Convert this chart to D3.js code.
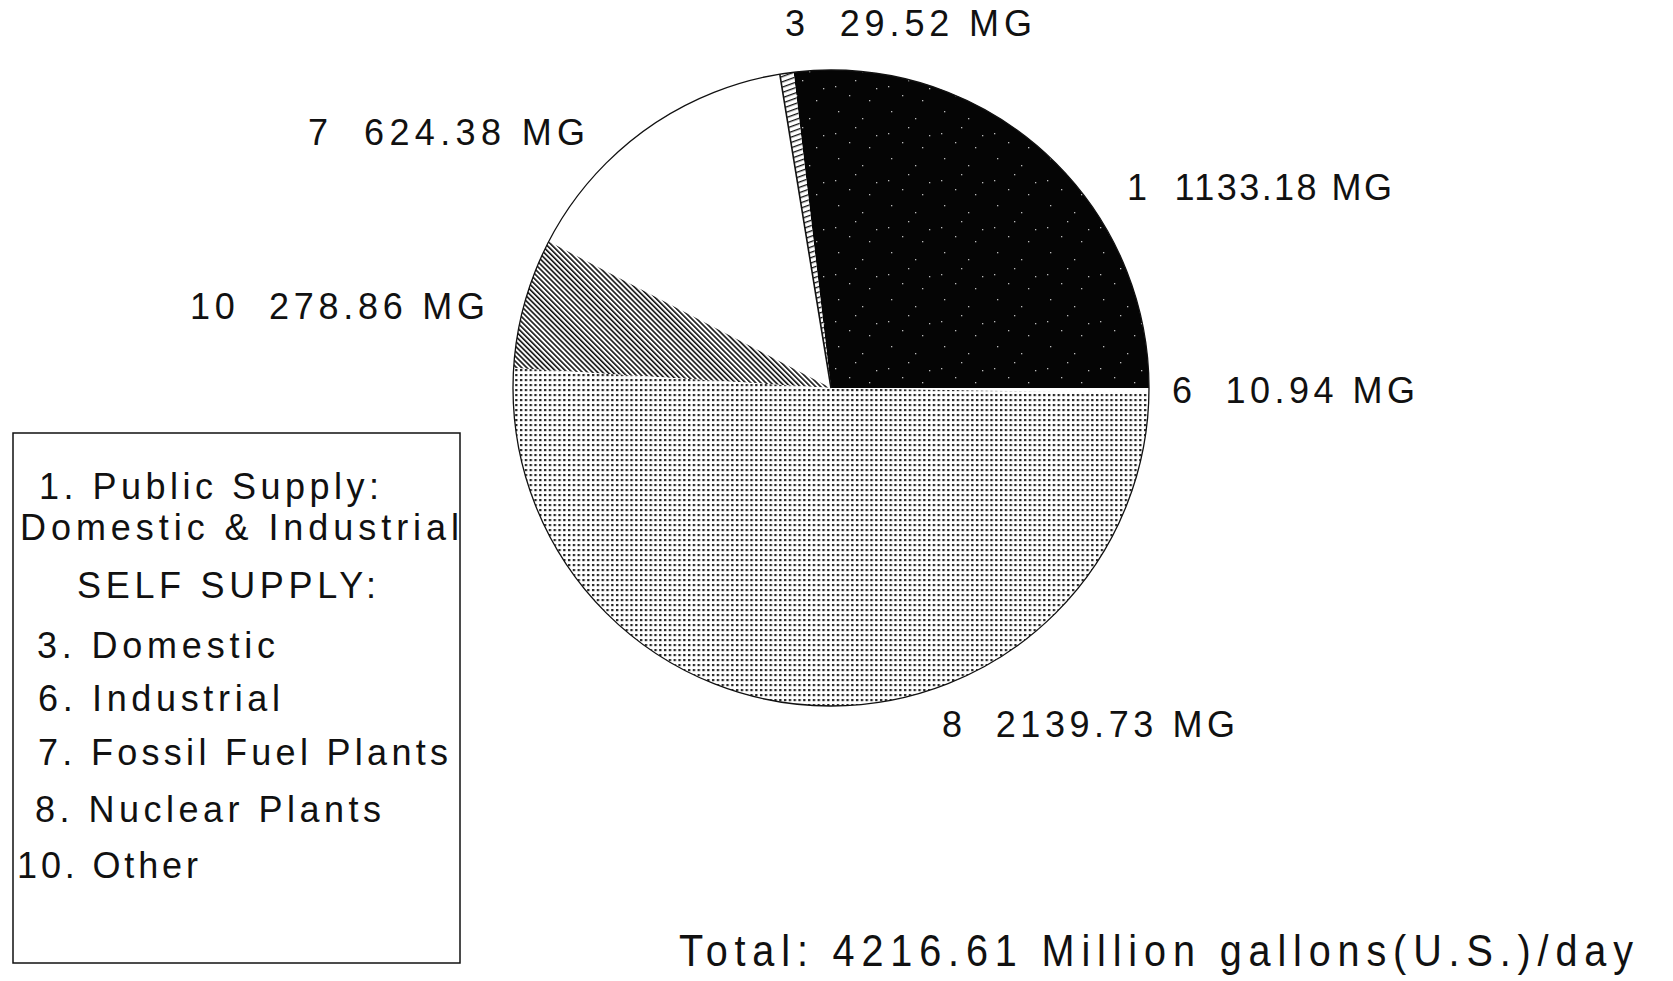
<!DOCTYPE html>
<html>
<head>
<meta charset="utf-8">
<script src="https://cdn.jsdelivr.net/npm/d3@7/dist/d3.min.js"></script>
<style>
  html, body { margin: 0; padding: 0; background: #fff; }
  svg { display: block; }
  text { font-family: "Liberation Sans", Arial, Helvetica, sans-serif; fill: #111; white-space: pre; }
</style>
</head>
<body>
<svg id="chart" width="1673" height="981"></svg>
<script>
// ---- data ----
const sliceIds    = ["1", "3", "7", "10", "8", "6"];
const sliceValues = [1133.18, 29.52, 624.38, 278.86, 2139.73, 10.94];
const sliceValueLabels = ["1133.18", "29.52", "624.38", "278.86", "2139.73", "10.94"];
const unitLabel = "MG";
const legendLines = [
  "1. Public Supply:",
  "Domestic & Industrial",
  "SELF SUPPLY:",
  "3. Domestic",
  "6. Industrial",
  "7. Fossil Fuel Plants",
  "8. Nuclear Plants",
  "10. Other"
];
const totalText = "Total: 4216.61 Million gallons(U.S.)/day";

// ---- layout / style ----
const W = 1673, H = 981;
const cx = 831, cy = 388, R = 318;
const sliceFill = { "1": "url(#speckle)", "3": "url(#hatch3)", "7": "#fff", "10": "url(#hatch)", "8": "url(#dots)", "6": "#fff" };
// label anchor (start x, baseline y) and fitted width
const labelLayout = {
  "3":  { x: 785,  y: 36,  w: 247 },
  "7":  { x: 308,  y: 145, w: 277 },
  "1":  { x: 1127, y: 200, w: 265 },
  "10": { x: 190,  y: 319, w: 295 },
  "6":  { x: 1172, y: 403, w: 243 },
  "8":  { x: 942,  y: 737, w: 293 }
};
const legendBox = { x: 13, y: 433, w: 447, h: 530 };
const legendX = [39, 20, 77, 37, 38, 38, 35, 17];
const legendY = [499, 540, 598, 658, 711, 765, 822, 878];
const legendW = [340, 439, 299, 238, 242, 410, 346, 181];
const totalPos = { x: 679, y: 966, w: 954, squeeze: 0.88 };

const svg = d3.select("#chart");
svg.append("rect").attr("width", W).attr("height", H).attr("fill", "#fff");

// ---- patterns ----
const defs = svg.append("defs");
const hatch = defs.append("pattern").attr("id", "hatch")
  .attr("patternUnits", "userSpaceOnUse").attr("width", 3.6).attr("height", 10)
  .attr("patternTransform", "rotate(-45)");
hatch.append("rect").attr("width", 3.6).attr("height", 10).attr("fill", "#fff");
hatch.append("rect").attr("width", 1.6).attr("height", 10).attr("fill", "#111");

const hatch3 = defs.append("pattern").attr("id", "hatch3")
  .attr("patternUnits", "userSpaceOnUse").attr("width", 10).attr("height", 5)
  .attr("patternTransform", "rotate(-20)");
hatch3.append("rect").attr("width", 10).attr("height", 5).attr("fill", "#fff");
hatch3.append("rect").attr("width", 10).attr("height", 1.3).attr("fill", "#111");

const dots = defs.append("pattern").attr("id", "dots")
  .attr("patternUnits", "userSpaceOnUse").attr("width", 4.8).attr("height", 5);
dots.append("rect").attr("width", 4.8).attr("height", 5).attr("fill", "#fff");
dots.append("rect").attr("x", 1).attr("y", 1).attr("width", 2.3).attr("height", 2.2).attr("fill", "#222");

const speckle = defs.append("pattern").attr("id", "speckle")
  .attr("patternUnits", "userSpaceOnUse").attr("width", 53).attr("height", 47);
speckle.append("rect").attr("width", 53).attr("height", 47).attr("fill", "#050505");
[[7,5],[31,12],[45,29],[18,36],[38,41],[24,21],[4,27]].forEach(p => {
  speckle.append("rect").attr("x", p[0]).attr("y", p[1]).attr("width", 1.3).attr("height", 1.3).attr("fill", "#bbb");
});

// ---- pie ----
const data = sliceIds.map((id, i) => ({ id, value: sliceValues[i], label: sliceValueLabels[i] }));
const pie = d3.pie().sort(null).value(d => d.value)
  .startAngle(Math.PI / 2).endAngle(Math.PI / 2 - 2 * Math.PI);
const arc = d3.arc().innerRadius(0).outerRadius(R);
const arcs = pie(data);

const g = svg.append("g").attr("transform", `translate(${cx},${cy})`);
g.selectAll("path.slice").data(arcs).join("path")
  .attr("class", "slice")
  .attr("d", arc)
  .attr("fill", d => sliceFill[d.data.id])
  .attr("stroke", "none");

// left edge line of slice 3 (boundary with 7)
const s3 = arcs.find(a => a.data.id === "3");
g.append("line")
  .attr("x1", 0).attr("y1", 0)
  .attr("x2", R * Math.sin(s3.endAngle)).attr("y2", -R * Math.cos(s3.endAngle))
  .attr("stroke", "#111").attr("stroke-width", 1.6);

g.append("circle").attr("r", R).attr("fill", "none").attr("stroke", "#111").attr("stroke-width", 1.3);

// ---- slice labels ----
svg.selectAll("text.slabel").data(data).join("text")
  .attr("class", "slabel")
  .attr("x", d => labelLayout[d.id].x)
  .attr("y", d => labelLayout[d.id].y)
  .attr("font-size", 36)
  .attr("textLength", d => labelLayout[d.id].w)
  .attr("lengthAdjust", "spacing")
  .text(d => `${d.id}  ${d.label} ${unitLabel}`);

// ---- legend ----
svg.append("rect")
  .attr("x", legendBox.x).attr("y", legendBox.y)
  .attr("width", legendBox.w).attr("height", legendBox.h)
  .attr("fill", "none").attr("stroke", "#111").attr("stroke-width", 1.5);

svg.selectAll("text.leg").data(legendLines).join("text")
  .attr("class", "leg")
  .attr("x", (d, i) => legendX[i])
  .attr("y", (d, i) => legendY[i])
  .attr("font-size", 36)
  .attr("textLength", (d, i) => legendW[i])
  .attr("lengthAdjust", "spacing")
  .text(d => d);

// ---- total (condensed) ----
svg.append("text")
  .attr("transform", `translate(${totalPos.x},${totalPos.y}) scale(${totalPos.squeeze},1)`)
  .attr("x", 0).attr("y", 0)
  .attr("font-size", 45)
  .attr("textLength", totalPos.w / totalPos.squeeze)
  .attr("lengthAdjust", "spacing")
  .text(totalText);
</script>
</body>
</html>
